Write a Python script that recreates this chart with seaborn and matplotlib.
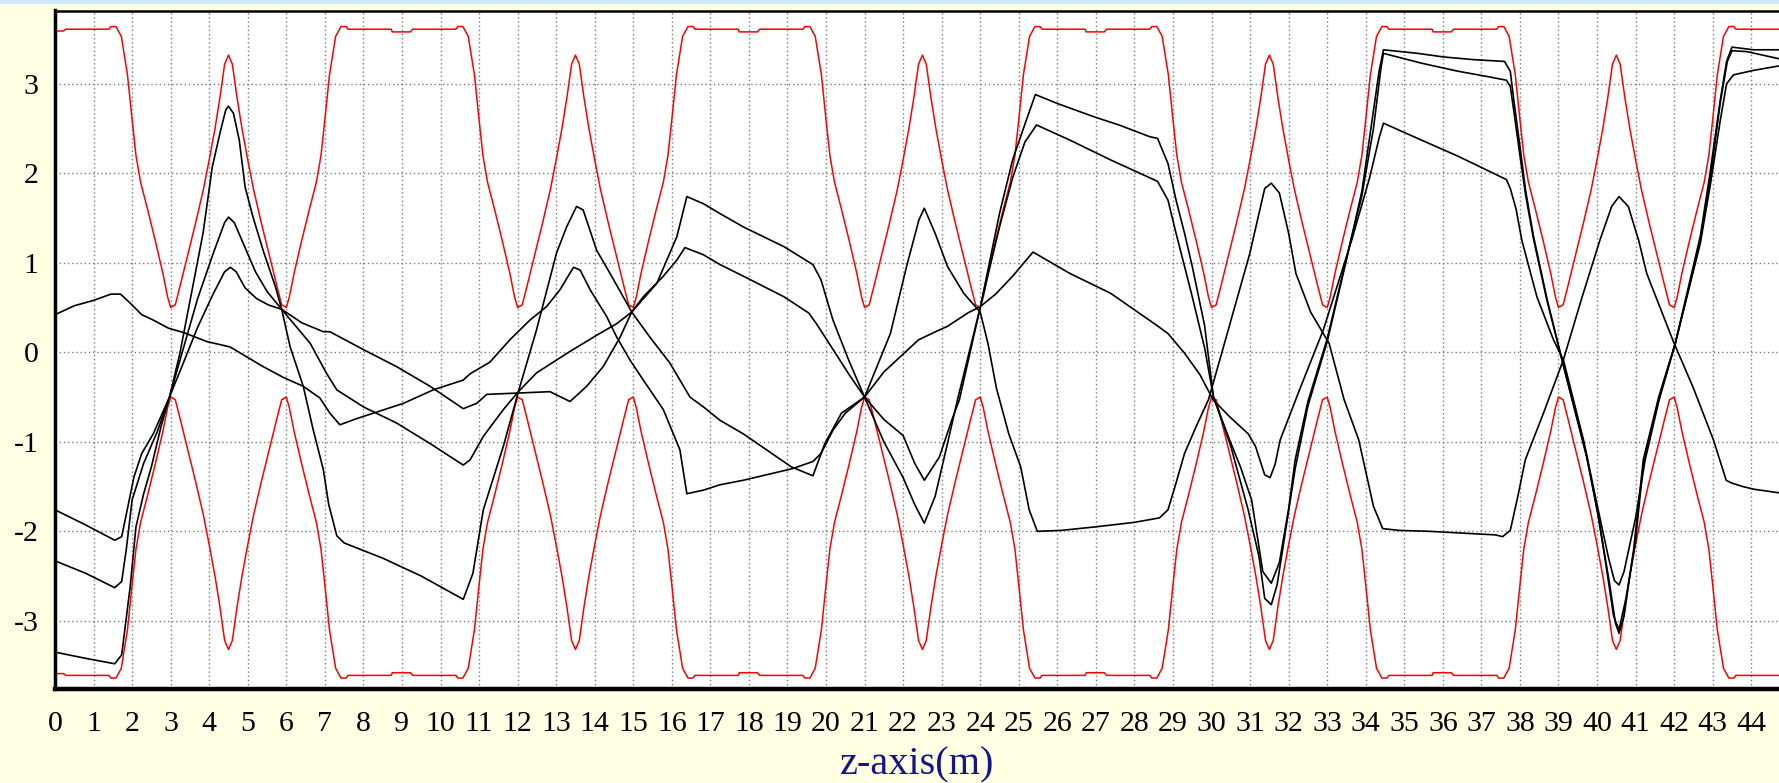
import matplotlib
matplotlib.use("Agg")
import matplotlib.pyplot as plt
from matplotlib.patches import Rectangle
import pandas as pd
import seaborn as sns

# ---------------- data ----------------
red_z = [
    0.0, 0.22, 0.28, 1.4, 1.45, 1.58, 1.72, 1.88, 2.0, 2.1, 2.22, 2.4, 2.6, 2.8, 2.92, 3.0, 3.12, 3.25, 3.45, 3.65,
    3.85, 4.0, 4.15, 4.28, 4.4, 4.5, 4.6, 4.72, 4.85, 5.0, 5.15, 5.35, 5.55, 5.75, 5.88, 6.0, 6.08, 6.2, 6.4, 6.6,
    6.78, 6.9, 7.0, 7.12, 7.28, 7.42, 7.55, 7.6, 8.72,
    8.75, 9.22, 9.28, 10.4, 10.45, 10.58, 10.72, 10.88, 11.0, 11.1, 11.22, 11.4, 11.6, 11.8, 11.92, 12.0, 12.12, 12.25, 12.45, 12.65,
    12.85, 13.0, 13.15, 13.28, 13.4, 13.5, 13.6, 13.72, 13.85, 14.0, 14.15, 14.35, 14.55, 14.75, 14.88, 15.0, 15.08, 15.2, 15.4, 15.6,
    15.78, 15.9, 16.0, 16.12, 16.28, 16.42, 16.55, 16.6, 17.72,
    17.75, 18.22, 18.28, 19.4, 19.45, 19.58, 19.72, 19.88, 20.0, 20.1, 20.22, 20.4, 20.6, 20.8, 20.92, 21.0, 21.12, 21.25, 21.45, 21.65,
    21.85, 22.0, 22.15, 22.28, 22.4, 22.5, 22.6, 22.72, 22.85, 23.0, 23.15, 23.35, 23.55, 23.75, 23.88, 24.0, 24.08, 24.2, 24.4, 24.6,
    24.78, 24.9, 25.0, 25.12, 25.28, 25.42, 25.55, 25.6, 26.72,
    26.75, 27.22, 27.28, 28.4, 28.45, 28.58, 28.72, 28.88, 29.0, 29.1, 29.22, 29.4, 29.6, 29.8, 29.92, 30.0, 30.12, 30.25, 30.45, 30.65,
    30.85, 31.0, 31.15, 31.28, 31.4, 31.5, 31.6, 31.72, 31.85, 32.0, 32.15, 32.35, 32.55, 32.75, 32.88, 33.0, 33.08, 33.2, 33.4, 33.6,
    33.78, 33.9, 34.0, 34.12, 34.28, 34.42, 34.55, 34.6, 35.72,
    35.75, 36.22, 36.28, 37.4, 37.45, 37.58, 37.72, 37.88, 38.0, 38.1, 38.22, 38.4, 38.6, 38.8, 38.92, 39.0, 39.12, 39.25, 39.45, 39.65,
    39.85, 40.0, 40.15, 40.28, 40.4, 40.5, 40.6, 40.72, 40.85, 41.0, 41.15, 41.35, 41.55, 41.75, 41.88, 42.0, 42.08, 42.2, 42.4, 42.6,
    42.78, 42.9, 43.0, 43.12, 43.28, 43.42, 43.55, 43.6, 44.75,
]

red_upper = [
    3.59, 3.59, 3.61, 3.61, 3.64, 3.64, 3.53, 3.10, 2.60, 2.20, 1.90, 1.60, 1.25, 0.88, 0.62, 0.50, 0.53, 0.75, 1.10, 1.45,
    1.82, 2.15, 2.50, 2.85, 3.22, 3.32, 3.22, 2.85, 2.50, 2.15, 1.82, 1.45, 1.10, 0.75, 0.53, 0.50, 0.62, 0.88, 1.25, 1.60,
    1.90, 2.20, 2.60, 3.10, 3.53, 3.64, 3.64, 3.61, 3.61,
    3.58, 3.58, 3.61, 3.61, 3.64, 3.64, 3.53, 3.10, 2.60, 2.20, 1.90, 1.60, 1.25, 0.88, 0.62, 0.50, 0.53, 0.75, 1.10, 1.45,
    1.82, 2.15, 2.50, 2.85, 3.22, 3.32, 3.22, 2.85, 2.50, 2.15, 1.82, 1.45, 1.10, 0.75, 0.53, 0.50, 0.62, 0.88, 1.25, 1.60,
    1.90, 2.20, 2.60, 3.10, 3.53, 3.64, 3.64, 3.61, 3.61,
    3.58, 3.58, 3.61, 3.61, 3.64, 3.64, 3.53, 3.10, 2.60, 2.20, 1.90, 1.60, 1.25, 0.88, 0.62, 0.50, 0.53, 0.75, 1.10, 1.45,
    1.82, 2.15, 2.50, 2.85, 3.22, 3.32, 3.22, 2.85, 2.50, 2.15, 1.82, 1.45, 1.10, 0.75, 0.53, 0.50, 0.62, 0.88, 1.25, 1.60,
    1.90, 2.20, 2.60, 3.10, 3.53, 3.64, 3.64, 3.61, 3.61,
    3.58, 3.58, 3.61, 3.61, 3.64, 3.64, 3.53, 3.10, 2.60, 2.20, 1.90, 1.60, 1.25, 0.88, 0.62, 0.50, 0.53, 0.75, 1.10, 1.45,
    1.82, 2.15, 2.50, 2.85, 3.22, 3.32, 3.22, 2.85, 2.50, 2.15, 1.82, 1.45, 1.10, 0.75, 0.53, 0.50, 0.62, 0.88, 1.25, 1.60,
    1.90, 2.20, 2.60, 3.10, 3.53, 3.64, 3.64, 3.61, 3.61,
    3.58, 3.58, 3.61, 3.61, 3.64, 3.64, 3.53, 3.10, 2.60, 2.20, 1.90, 1.60, 1.25, 0.88, 0.62, 0.50, 0.53, 0.75, 1.10, 1.45,
    1.82, 2.15, 2.50, 2.85, 3.22, 3.32, 3.22, 2.85, 2.50, 2.15, 1.82, 1.45, 1.10, 0.75, 0.53, 0.50, 0.62, 0.88, 1.25, 1.60,
    1.90, 2.20, 2.60, 3.10, 3.53, 3.64, 3.64, 3.61, 3.61,
]

red_lower = [
    -3.59, -3.59, -3.61, -3.61, -3.64, -3.64, -3.53, -3.10, -2.60, -2.20, -1.90, -1.60, -1.25, -0.88, -0.62, -0.50, -0.53, -0.75, -1.10, -1.45,
    -1.82, -2.15, -2.50, -2.85, -3.22, -3.32, -3.22, -2.85, -2.50, -2.15, -1.82, -1.45, -1.10, -0.75, -0.53, -0.50, -0.62, -0.88, -1.25, -1.60,
    -1.90, -2.20, -2.60, -3.10, -3.53, -3.64, -3.64, -3.61, -3.61,
    -3.58, -3.58, -3.61, -3.61, -3.64, -3.64, -3.53, -3.10, -2.60, -2.20, -1.90, -1.60, -1.25, -0.88, -0.62, -0.50, -0.53, -0.75, -1.10, -1.45,
    -1.82, -2.15, -2.50, -2.85, -3.22, -3.32, -3.22, -2.85, -2.50, -2.15, -1.82, -1.45, -1.10, -0.75, -0.53, -0.50, -0.62, -0.88, -1.25, -1.60,
    -1.90, -2.20, -2.60, -3.10, -3.53, -3.64, -3.64, -3.61, -3.61,
    -3.58, -3.58, -3.61, -3.61, -3.64, -3.64, -3.53, -3.10, -2.60, -2.20, -1.90, -1.60, -1.25, -0.88, -0.62, -0.50, -0.53, -0.75, -1.10, -1.45,
    -1.82, -2.15, -2.50, -2.85, -3.22, -3.32, -3.22, -2.85, -2.50, -2.15, -1.82, -1.45, -1.10, -0.75, -0.53, -0.50, -0.62, -0.88, -1.25, -1.60,
    -1.90, -2.20, -2.60, -3.10, -3.53, -3.64, -3.64, -3.61, -3.61,
    -3.58, -3.58, -3.61, -3.61, -3.64, -3.64, -3.53, -3.10, -2.60, -2.20, -1.90, -1.60, -1.25, -0.88, -0.62, -0.50, -0.53, -0.75, -1.10, -1.45,
    -1.82, -2.15, -2.50, -2.85, -3.22, -3.32, -3.22, -2.85, -2.50, -2.15, -1.82, -1.45, -1.10, -0.75, -0.53, -0.50, -0.62, -0.88, -1.25, -1.60,
    -1.90, -2.20, -2.60, -3.10, -3.53, -3.64, -3.64, -3.61, -3.61,
    -3.58, -3.58, -3.61, -3.61, -3.64, -3.64, -3.53, -3.10, -2.60, -2.20, -1.90, -1.60, -1.25, -0.88, -0.62, -0.50, -0.53, -0.75, -1.10, -1.45,
    -1.82, -2.15, -2.50, -2.85, -3.22, -3.32, -3.22, -2.85, -2.50, -2.15, -1.82, -1.45, -1.10, -0.75, -0.53, -0.50, -0.62, -0.88, -1.25, -1.60,
    -1.90, -2.20, -2.60, -3.10, -3.53, -3.64, -3.64, -3.61, -3.61,
]

traj1_z = [0, 0.5, 1.0, 1.45, 1.7, 1.95, 2.25, 2.55, 2.94, 3.34, 3.94, 4.54, 5.4, 5.92, 6.44, 6.87, 7.13, 7.39, 7.83, 8.26,
           9.04, 9.81, 10.59, 10.77, 11.28, 11.8, 12.32, 12.75, 13.1, 13.45, 13.62, 13.88, 14.31, 14.57, 14.92, 15.26, 15.78, 16.21, 16.39, 16.82,
           17.25, 17.85, 19.13, 19.66, 19.87, 20.18, 20.5, 21.0, 21.5, 22.0, 22.4, 22.94, 23.15, 23.68, 24.0, 24.4, 24.84, 25.37, 26.33, 27.38,
           28.55, 28.87, 29.3, 29.7, 30.04, 30.47, 30.95, 31.14, 31.38, 31.52, 31.65, 31.78, 32.3, 32.9, 33.64, 34.1, 34.35, 34.46, 35.45, 36.4,
           37.65, 37.75, 37.9, 38.05, 38.44, 38.87, 39.13, 39.65, 40.0, 40.3, 40.45, 40.57, 40.7, 41.0, 41.25, 41.6, 42.03, 42.68, 42.95, 43.2,
           43.36, 43.54, 44.06, 44.72]
traj1_y = [0.42, 0.52, 0.58, 0.65, 0.65, 0.55, 0.42, 0.36, 0.27, 0.22, 0.12, 0.06, -0.16, -0.28, -0.38, -0.51, -0.68, -0.81, -0.74, -0.68,
           -0.57, -0.42, -0.31, -0.24, -0.11, 0.14, 0.36, 0.51, 0.70, 0.95, 0.92, 0.70, 0.40, 0.17, -0.09, -0.31, -0.64, -1.09, -1.58, -1.54,
           -1.48, -1.43, -1.30, -1.22, -1.13, -0.87, -0.68, -0.50, -0.22, -0.02, 0.14, 0.25, 0.29, 0.44, 0.51, 0.65, 0.85, 1.12, 0.88, 0.66,
           0.31, 0.21, -0.01, -0.25, -0.53, -0.72, -0.91, -1.05, -1.37, -1.40, -1.25, -0.98, -0.40, 0.25, 1.26, 1.95, 2.40, 2.56, 2.37, 2.19,
           1.93, 1.83, 1.60, 1.25, 0.62, 0.14, -0.09, -0.98, -1.70, -2.30, -2.55, -2.60, -2.45, -1.85, -1.20, -0.55, 0.10, 1.22, 1.90, 2.60,
           3.00, 3.10, 3.15, 3.20]

traj2_z = [0, 0.8, 1.55, 1.73, 2.05, 2.25, 2.55, 2.97, 3.3, 3.7, 4.1, 4.4, 4.55, 4.7, 4.93, 5.23, 5.53, 5.88, 6.4, 6.96,
           7.13, 8.0, 8.86, 9.73, 10.59, 10.94, 11.2, 12.84, 13.36, 13.79, 14.22, 14.66, 14.96, 15.26, 15.78, 16.13, 16.34, 16.82, 17.25, 17.86,
           18.91, 19.55, 19.75, 20.2, 20.6, 21.0, 21.5, 22.0, 22.3, 22.55, 22.94, 23.26, 23.46, 24.0, 24.5, 24.84, 25.16, 25.46, 26.33, 27.38,
           28.6, 28.87, 29.08, 29.3, 29.5, 29.82, 30.05, 30.47, 30.75, 31.04, 31.33, 31.55, 31.76, 32.0, 32.17, 32.5, 33.0, 33.51, 33.9, 34.2,
           34.4, 34.46, 35.45, 36.4, 37.17, 37.65, 37.75, 37.84, 38.0, 38.15, 38.35, 38.7, 39.1, 39.73, 40.04, 40.24, 40.43, 40.57, 40.75, 41.0,
           41.2, 41.6, 42.03, 42.68, 42.95, 43.2, 43.38, 43.5, 43.88, 44.72]
traj2_y = [-1.76, -1.93, -2.10, -2.06, -1.39, -1.13, -0.91, -0.50, -0.15, 0.28, 0.65, 0.90, 0.95, 0.90, 0.72, 0.60, 0.53, 0.48, 0.33, 0.23,
           0.23, 0.03, -0.16, -0.38, -0.63, -0.57, -0.47, -0.44, -0.55, -0.38, -0.16, 0.17, 0.45, 0.62, 0.85, 1.03, 1.17, 1.09, 0.98, 0.85,
           0.62, 0.44, 0.32, 0.02, -0.25, -0.50, -0.75, -0.93, -1.24, -1.43, -1.17, -0.76, -0.53, 0.50, 1.40, 1.95, 2.35, 2.54, 2.37, 2.15,
           1.91, 1.70, 1.33, 0.96, 0.62, 0.05, -0.50, -0.98, -1.28, -1.65, -2.45, -2.58, -2.35, -1.75, -1.20, -0.55, 0.15, 1.07, 1.75, 2.50,
           3.19, 3.34, 3.23, 3.14, 3.08, 3.04, 2.97, 2.70, 2.20, 1.75, 1.27, 0.58, -0.10, -1.15, -1.85, -2.40, -2.95, -3.10, -2.75, -2.10,
           -1.25, -0.52, 0.10, 1.25, 1.98, 2.80, 3.25, 3.37, 3.36, 3.28]

traj3_z = [0, 0.8, 1.55, 1.73, 1.85, 2.0, 2.3, 2.65, 2.97, 3.3, 3.7, 4.1, 4.4, 4.5, 4.65, 4.9, 5.2, 5.5, 5.88, 6.62,
           7.05, 7.31, 8.0, 8.86, 9.73, 10.59, 10.77, 11.11, 11.63, 12.02, 12.49, 13.36, 14.05, 14.57, 14.96, 15.61, 16.13, 16.39, 16.82, 17.25,
           17.86, 18.91, 19.66, 19.87, 20.18, 20.6, 21.0, 21.5, 22.0, 22.3, 22.55, 22.83, 23.15, 23.41, 24.0, 24.5, 24.84, 25.16, 25.43, 26.0,
           26.96, 27.6, 28.39, 28.6, 28.87, 29.08, 29.3, 29.5, 29.82, 30.05, 30.5, 30.95, 31.23, 31.38, 31.55, 31.7, 31.9, 32.17, 32.5, 33.0,
           33.51, 33.9, 34.15, 34.35, 34.46, 35.35, 36.02, 36.79, 37.6, 37.75, 37.84, 38.0, 38.15, 38.35, 38.7, 39.1, 39.73, 40.0, 40.33, 40.48,
           40.57, 40.7, 40.95, 41.2, 41.6, 42.03, 42.68, 42.93, 43.19, 43.36, 43.5, 44.06, 44.72]
traj3_y = [-2.33, -2.47, -2.63, -2.56, -2.20, -1.65, -1.24, -0.89, -0.50, 0.00, 0.60, 1.10, 1.45, 1.51, 1.45, 1.20, 0.90, 0.68, 0.48, 0.10,
           -0.24, -0.42, -0.61, -0.79, -1.02, -1.26, -1.20, -0.94, -0.64, -0.44, -0.23, 0.01, 0.19, 0.32, 0.45, 0.77, 1.29, 1.74, 1.66, 1.55,
           1.40, 1.18, 0.98, 0.81, 0.36, -0.10, -0.50, -1.00, -1.40, -1.70, -1.91, -1.61, -1.02, -0.53, 0.50, 1.55, 2.15, 2.55, 2.88, 2.78,
           2.63, 2.54, 2.41, 2.39, 2.11, 1.70, 1.33, 0.96, 0.30, -0.50, -1.05, -1.76, -2.28, -2.75, -2.82, -2.60, -2.05, -1.30, -0.60, 0.12,
           1.05, 1.80, 2.55, 3.15, 3.38, 3.34, 3.30, 3.27, 3.25, 3.14, 2.82, 2.30, 1.80, 1.30, 0.60, -0.10, -1.17, -1.75, -2.60, -3.03,
           -3.14, -2.95, -2.20, -1.20, -0.50, 0.10, 1.30, 2.00, 2.80, 3.25, 3.41, 3.38, 3.38]

traj4_z = [0, 0.8, 1.55, 1.73, 1.95, 2.1, 2.3, 2.5, 2.75, 2.97, 3.24, 3.54, 3.84, 4.08, 4.28, 4.43, 4.5, 4.63, 4.78, 4.93,
           5.13, 5.42, 5.72, 5.88, 6.1, 6.44, 6.7, 6.96, 7.1, 7.31, 7.5, 8.5, 9.5, 10.59, 10.84, 11.11, 11.63, 12.02, 12.49, 13.01,
           13.27, 13.53, 13.7, 14.05, 14.4, 14.96, 15.43, 15.95, 16.47, 16.82, 17.25, 17.85, 19.1, 19.66, 19.97, 20.4, 21.0, 21.67, 22.09, 22.41,
           22.55, 22.83, 23.15, 23.57, 24.0, 24.2, 24.42, 24.74, 25.05, 25.27, 25.48, 26.1, 27.0, 28.0, 28.65, 28.87, 29.08, 29.3, 29.6, 29.92,
           30.27, 30.99, 31.38, 31.55, 31.76, 32.0, 32.19, 32.57, 33.05, 33.44, 33.82, 34.2, 34.44, 34.87, 35.64, 36.5, 37.36, 37.55, 37.75, 37.95,
           38.14, 38.61, 39.13, 39.6, 40.08, 40.38, 40.57, 40.81, 41.08, 41.29, 41.98, 42.5, 43.02, 43.35, 43.49, 43.78, 44.07, 44.72]
traj4_y = [-3.35, -3.42, -3.48, -3.38, -2.62, -1.95, -1.58, -1.28, -0.83, -0.50, -0.01, 0.66, 1.33, 2.07, 2.45, 2.71, 2.75, 2.67, 2.37, 1.85,
           1.52, 1.11, 0.73, 0.48, 0.06, -0.38, -0.87, -1.31, -1.70, -2.05, -2.13, -2.30, -2.50, -2.76, -2.47, -1.76, -1.05, -0.44, 0.25, 1.11,
           1.40, 1.63, 1.59, 1.14, 0.88, 0.45, 0.17, -0.12, -0.50, -0.61, -0.76, -0.91, -1.28, -1.38, -1.02, -0.68, -0.50, 0.21, 0.96, 1.48,
           1.61, 1.33, 0.96, 0.66, 0.45, 0.10, -0.40, -0.91, -1.28, -1.76, -2.00, -1.99, -1.95, -1.90, -1.85, -1.76, -1.46, -1.13, -0.83, -0.53,
           0.00, 1.10, 1.83, 1.89, 1.78, 1.33, 0.88, 0.45, 0.10, -0.53, -0.98, -1.72, -1.97, -1.99, -2.00, -2.02, -2.04, -2.06, -1.99, -1.60,
           -1.20, -0.68, -0.08, 0.60, 1.26, 1.63, 1.74, 1.63, 1.25, 0.88, 0.12, -0.40, -0.98, -1.43, -1.46, -1.50, -1.53, -1.57]

x_ticks = list(range(0, 45))
y_ticks = [-3, -2, -1, 0, 1, 2, 3]
x_label = "z-axis(m)"

# ---------------- tables for seaborn ----------------
red_df = pd.concat([
    pd.DataFrame({"z": red_z, "y": red_upper, "curve": "upper"}),
    pd.DataFrame({"z": red_z, "y": red_lower, "curve": "lower"}),
], ignore_index=True)
traj_df = pd.concat([
    pd.DataFrame({"z": traj1_z, "y": traj1_y, "curve": "t1"}),
    pd.DataFrame({"z": traj2_z, "y": traj2_y, "curve": "t2"}),
    pd.DataFrame({"z": traj3_z, "y": traj3_y, "curve": "t3"}),
    pd.DataFrame({"z": traj4_z, "y": traj4_y, "curve": "t4"}),
], ignore_index=True)

# ---------------- figure ----------------
sns.set_theme(style="white")
plt.rcParams["font.family"] = ["Liberation Serif", "DejaVu Serif"]
plt.rcParams["axes.unicode_minus"] = False

W, H = 1779, 783
BG = "#FFFFE3"
fig = plt.figure(figsize=(W / 100, H / 100), dpi=100, facecolor=BG)
fig.add_artist(Rectangle((0, 1 - 4 / H), 1, 4 / H, transform=fig.transFigure,
                         facecolor="#CDE8FB", edgecolor="none"))

ax = fig.add_axes([55 / W, 1 - 689 / H, (W - 55) / W, (689 - 10.5) / H])
ax.set_facecolor("white")

sns.lineplot(data=red_df, x="z", y="y", units="curve", estimator=None, sort=False,
             color="#FF0000", linewidth=1.1, ax=ax, legend=False)
sns.lineplot(data=traj_df, x="z", y="y", units="curve", estimator=None, sort=False,
             color="black", linewidth=1.2, ax=ax, legend=False)

ax.set_xlim(0, 44.72)
ax.set_ylim(-3.762, 3.819)
ax.set_xticks(x_ticks)
ax.set_yticks(y_ticks)
ax.set_xticks([v + 0.5 for v in x_ticks], minor=True)
ax.set_yticks([-3.5, -2.5, -1.5, -0.5, 0.5, 1.5, 2.5, 3.5], minor=True)
ax.set_xlabel("")
ax.set_ylabel("")

ax.set_axisbelow(True)
ax.grid(True, which="major", color="#7a7a7a", linestyle=(0, (1, 2)), linewidth=1.0)

for side in ("left", "bottom", "top"):
    ax.spines[side].set_visible(True)
    ax.spines[side].set_color("black")
ax.spines["left"].set_linewidth(2.5)
ax.spines["bottom"].set_linewidth(3.2)
ax.spines["top"].set_linewidth(1.8)
ax.spines["right"].set_visible(False)

ax.tick_params(axis="both", which="major", direction="out", length=8, width=1,
               color="#808080", labelsize=21.5, labelcolor="black")
ax.tick_params(axis="both", which="minor", direction="out", length=4, width=1,
               color="#808080")
ax.tick_params(axis="x", which="major", pad=8)
ax.tick_params(axis="y", which="major", pad=4)

fig.text(917 / W, 1 - 765 / H, x_label, ha="center", va="center",
         color="#14148C", fontsize=29)

fig.savefig("out.png", dpi=100, facecolor=fig.get_facecolor())
